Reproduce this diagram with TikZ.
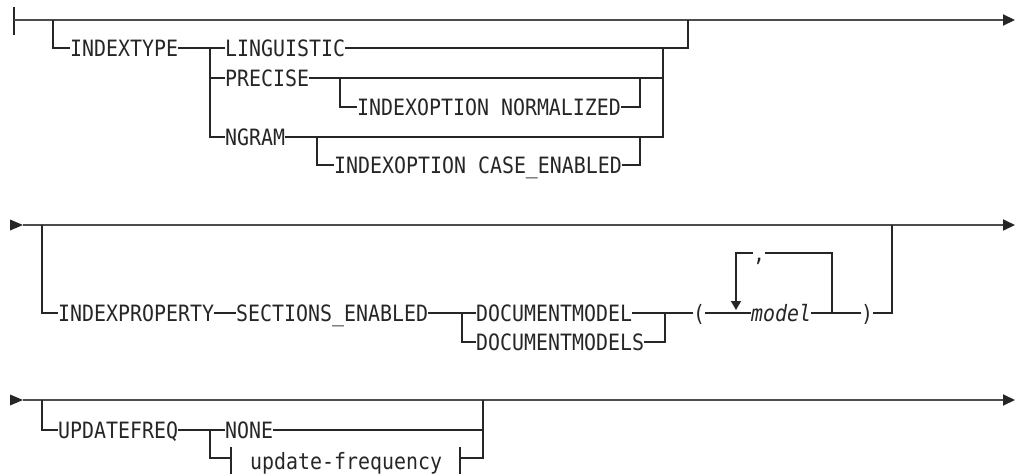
\documentclass[tikz,border=0pt]{standalone}
\usepackage{fontspec}
\setmonofont[FakeStretch=0.885]{DejaVu Sans Mono}
\usetikzlibrary{arrows.meta}
\newcommand\kwfont{\ttfamily\fontsize{22.5}{26}\selectfont}
\definecolor{ink}{HTML}{262626}
\definecolor{rail}{HTML}{4C4C4C}
\tikzset{
  kw/.style={font=\kwfont, text=ink, inner sep=0pt, anchor=west,
             text height=16.4pt, text depth=0pt},
  var/.style={kw, font=\kwfont\itshape},
  conn/.style={draw=ink, line width=1.5pt},
  mainrail/.style={draw=rail, line width=1.9pt},
  endtip/.style={-{Triangle[length=12pt,width=11pt,color=ink]}},
  looptip/.style={-{Triangle[length=9pt,width=10pt]}},
}
\begin{document}
\begin{tikzpicture}[x=1pt,y=-1pt]
\useasboundingbox (0,0) rectangle (1015,474);

% ---------------- first rail: INDEXTYPE
\coordinate (r1s) at (14,20);
\coordinate (r1e) at (1015,20);
\coordinate (r1bt) at (14,7);
\coordinate (r1bb) at (14,35);
\draw[conn] (r1bt) -- (r1bb);
\draw[mainrail,endtip] (r1s) -- (r1e);

\coordinate (b1) at (53,20);
\node[kw] (indextype) at (70,48) {INDEXTYPE};
\draw[conn] (b1) |- (indextype.west);

\coordinate (j1) at (210,48);
\node[kw] (ling)  at (225,48)  {LINGUISTIC};
\node[kw] (prec)  at (225,78)  {PRECISE};
\node[kw] (ngram) at (225,137) {NGRAM};
\draw[conn] (indextype.east) -- (ling.west);
\draw[conn] (j1) |- (ngram.west);
\draw[conn] (j1 |- prec.west) -- (prec.west);

\coordinate (j2) at (663,48);
\coordinate (oj1) at (688,20);
\draw[conn] (ling.east) -| (oj1);
\draw[conn] (prec.east) -- (j2 |- prec.east);
\draw[conn] (ngram.east) -| (j2);

\coordinate (p1) at (340,78);
\coordinate (p2) at (640,78);
\node[kw] (normal) at (357,107) {INDEXOPTION NORMALIZED};
\draw[conn] (p1) |- (normal.west);
\draw[conn] (normal.east) -| (p2);

\coordinate (n1) at (317,137);
\coordinate (n2) at (640,137);
\node[kw] (caseen) at (334,165) {INDEXOPTION CASE\_ENABLED};
\draw[conn] (n1) |- (caseen.west);
\draw[conn] (caseen.east) -| (n2);

% ---------------- second rail: INDEXPROPERTY
\coordinate (r2s) at (23,225);
\coordinate (r2e) at (1015,225);
\fill[ink] (r2s) -- ++(-13,-5.5) -- ++(0,11) -- cycle;
\draw[mainrail,endtip] (r2s) -- (r2e);

\coordinate (b2) at (42,225);
\node[kw] (iprop) at (58,313) {INDEXPROPERTY};
\draw[conn] (b2) |- (iprop.west);
\node[kw] (sect) at (236,313) {SECTIONS\_ENABLED};
\draw[conn] (iprop.east) -- (sect.west);

\coordinate (j3) at (462,313);
\coordinate (j4) at (665,313);
\node[kw] (dm)  at (476,313) {DOCUMENTMODEL};
\node[kw] (dms) at (476,342) {DOCUMENTMODELS};
\node[kw] (lp)  at (693,313) {(};
\draw[conn] (sect.east) -- (dm.west);
\draw[conn] (j3) |- (dms.west);
\draw[conn] (dm.east) -- (lp.west);
\draw[conn] (dms.east) -| (j4);

\node[var] (model) at (751,313) {model};
\node[kw] (rp) at (861,313) {)};
\draw[conn] (lp.east) -- (model.west);
\draw[conn] (model.east) -- (rp.west);

% repeat loop with separator
\coordinate (lt) at (736,253);
\coordinate (ltb) at (736,310);
\coordinate (rt) at (832,253);
\coordinate (rtb) at (832,313);
\node[kw,anchor=center] (comma) at (759,253) {,};
\draw[conn] (rtb) -- (rt) -- (comma.east);
\draw[conn,looptip] (comma.west) -- (lt) -- (ltb);

\coordinate (j5) at (892,225);
\draw[conn] (rp.east) -| (j5);

% ---------------- third rail: UPDATEFREQ
\coordinate (r3s) at (23,400);
\coordinate (r3e) at (1015,400);
\fill[ink] (r3s) -- ++(-13,-5.5) -- ++(0,11) -- cycle;
\draw[mainrail,endtip] (r3s) -- (r3e);

\coordinate (b3) at (42,400);
\node[kw] (uf) at (58,430) {UPDATEFREQ};
\draw[conn] (b3) |- (uf.west);

\coordinate (j6) at (210,430);
\coordinate (oj3) at (483,400);
\node[kw] (none) at (225,430) {NONE};
\draw[conn] (uf.east) -- (none.west);
\draw[conn] (none.east) -| (oj3);

% fragment reference
\coordinate (fl) at (231,458);
\coordinate (fr) at (460,458);
\coordinate (flt) at (231,447);
\coordinate (flb) at (231,476);
\coordinate (frt) at (460,447);
\coordinate (frb) at (460,476);
\node[kw] (frag) at (250,461) {update-frequency};
\draw[conn] (j6) |- (fl);
\draw[conn] (flt) -- (flb);
\draw[conn] (frt) -- (frb);
\draw[conn] (fr) -| (oj3);
\end{tikzpicture}
\end{document}
